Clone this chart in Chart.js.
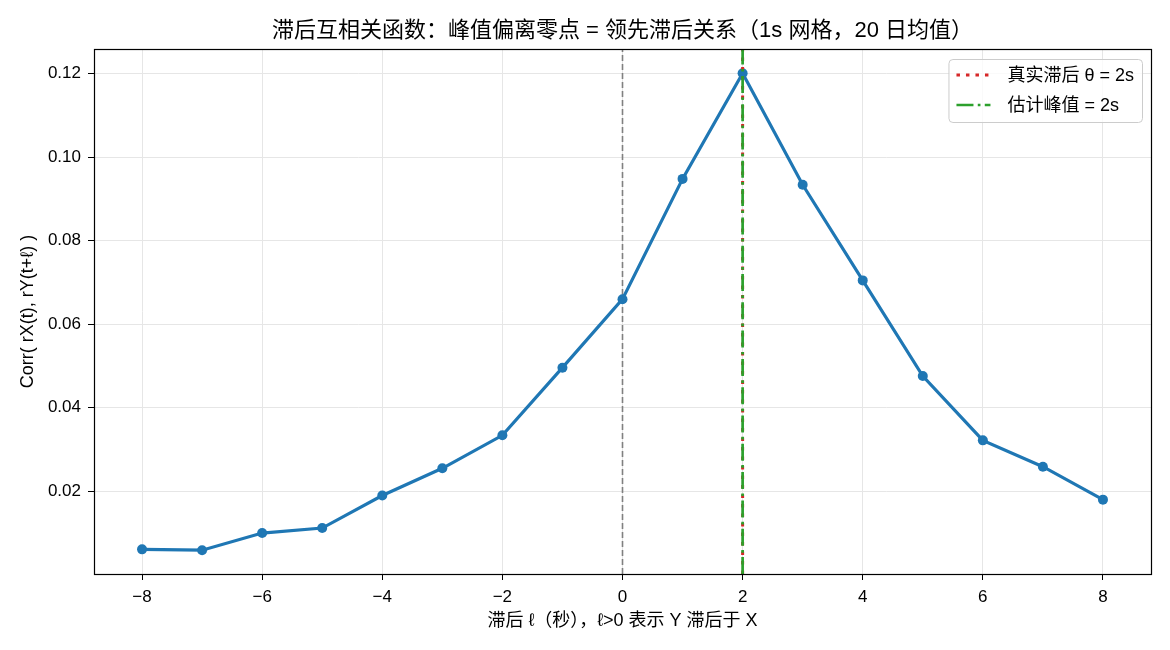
<!DOCTYPE html>
<html>
<head>
<meta charset="utf-8">
<title>滞后互相关函数</title>
<script src="https://cdn.jsdelivr.net/npm/chart.js@4.4.1/dist/chart.umd.min.js"></script>
<style>
  html, body { margin: 0; padding: 0; background: #fff; }
  #wrap { width: 1170px; height: 650px; position: relative; }
</style>
</head>
<body>
<div id="wrap"><canvas id="ccfChart"></canvas></div>
<script>
// Data
const lags = [-8, -7, -6, -5, -4, -3, -2, -1, 0, 1, 2, 3, 4, 5, 6, 7, 8];
const corrValues = [0.0061, 0.0059, 0.0100, 0.0112, 0.0190, 0.0255, 0.0334, 0.0496, 0.0660,
  0.0948, 0.1201, 0.0934, 0.0705, 0.0476, 0.0322, 0.0259, 0.0180];
const xTicks = [-8, -6, -4, -2, 0, 2, 4, 6, 8];
const yTicks = [0.02, 0.04, 0.06, 0.08, 0.10, 0.12];
const xLimits = [-8.8, 8.8];
const yLimits = [0.0002, 0.1259];
const zeroLag = 0;
const trueLag = 2;
const estimatedPeak = 2;

const titleText = "滞后互相关函数：峰值偏离零点 = 领先滞后关系（1s 网格，20 日均值）";
const xLabel = "滞后 ℓ（秒），ℓ>0 表示 Y 滞后于 X";
const yLabel = "Corr( rX(t), rY(t+ℓ) )";
const legendLabels = ["真实滞后 θ = 2s", "估计峰值 = 2s"];

const FONT = "'Liberation Sans', 'Noto Sans CJK SC', sans-serif";

const RED_DASH = [3.5, 6];
const GREEN_DASH = [17, 4.3, 2.7, 4.3];

// vertical line as two points spanning the y range
function vline(x) {
  return [{ x: x, y: yLimits[0] }, { x: x, y: yLimits[1] }];
}

// title centred over the plot area, like matplotlib does
const titlePlugin = {
  id: "axesTitle",
  afterDraw(chart) {
    const { ctx, chartArea: a } = chart;
    ctx.save();
    ctx.font = "22px " + FONT;
    ctx.fillStyle = "#000";
    ctx.textAlign = "center";
    ctx.textBaseline = "middle";
    ctx.fillText(titleText, (a.left + a.right) / 2, 31);
    ctx.restore();
  },
};

// frame around the plot area (matplotlib style spines)
const framePlugin = {
  id: "frame",
  afterDraw(chart) {
    const { ctx, chartArea: a } = chart;
    ctx.save();
    ctx.strokeStyle = "#000";
    ctx.lineWidth = 1.2;
    ctx.strokeRect(a.left + 0.5, a.top + 0.5, a.right - a.left, a.bottom - a.top);
    ctx.restore();
  },
};

// legend box in the upper right of the plot
const legendPlugin = {
  id: "boxLegend",
  afterDraw(chart) {
    const { ctx, chartArea: a } = chart;
    const items = [
      { label: legendLabels[0], color: "#d62728", dash: RED_DASH, width: 3 },
      { label: legendLabels[1], color: "#2ca02c", dash: GREEN_DASH, width: 2.7 },
    ];
    ctx.save();
    ctx.font = "18px " + FONT;
    const textW = Math.max(...items.map((it) => ctx.measureText(it.label).width));
    const w = 59 + textW + 8;
    const h = 63;
    const x = a.right - 9 - w;
    const y = a.top + 10;
    ctx.beginPath();
    ctx.roundRect(x + 0.5, y + 0.5, w, h, 4);
    ctx.fillStyle = "rgba(255,255,255,0.8)";
    ctx.fill();
    ctx.strokeStyle = "#cccccc";
    ctx.lineWidth = 1;
    ctx.stroke();
    items.forEach((it, i) => {
      const cy = y + 16 + i * 30;
      ctx.beginPath();
      ctx.setLineDash(it.dash);
      ctx.strokeStyle = it.color;
      ctx.lineWidth = it.width;
      ctx.moveTo(x + 8, cy);
      ctx.lineTo(x + 42, cy);
      ctx.stroke();
      ctx.setLineDash([]);
      ctx.fillStyle = "#000";
      ctx.textBaseline = "middle";
      ctx.fillText(it.label, x + 59, cy + 1);
    });
    ctx.restore();
  },
};

const ctx = document.getElementById("ccfChart").getContext("2d");
const ccfChart = new Chart(ctx, {
  type: "scatter",
  data: {
    datasets: [
      {
        label: legendLabels[1],
        data: vline(estimatedPeak),
        showLine: true,
        borderColor: "#2ca02c",
        borderWidth: 2.7,
        borderDash: GREEN_DASH,
        pointRadius: 0,
        order: 0,
      },
      {
        label: legendLabels[0],
        data: vline(trueLag),
        showLine: true,
        borderColor: "#d62728",
        borderWidth: 3,
        borderDash: RED_DASH,
        pointRadius: 0,
        order: 1,
      },
      {
        label: "CCF",
        data: lags.map((l, i) => ({ x: l, y: corrValues[i] })),
        showLine: true,
        borderColor: "#1f77b4",
        backgroundColor: "#1f77b4",
        borderWidth: 3.2,
        pointRadius: 5,
        pointBorderWidth: 0,
        order: 2,
      },
      {
        label: "zero",
        data: vline(zeroLag),
        showLine: true,
        borderColor: "#808080",
        borderWidth: 1.6,
        borderDash: [6, 3],
        pointRadius: 0,
        order: 3,
      },
    ],
  },
  options: {
    responsive: true,
    maintainAspectRatio: false,
    animation: false,
    layout: { padding: { left: 0, right: 19, top: 49, bottom: 0 } },
    plugins: {
      legend: { display: false },
      tooltip: { enabled: false },
      title: { display: false },
    },
    scales: {
      x: {
        type: "linear",
        min: xLimits[0],
        max: xLimits[1],
        afterBuildTicks: (axis) => {
          axis.ticks = xTicks.map((v) => ({ value: v }));
        },
        afterFit: (axis) => {
          axis.height = 76;
        },
        ticks: {
          color: "#000",
          font: { family: FONT, size: 17 },
          padding: 7,
          maxRotation: 0,
          callback: (v) => (v < 0 ? "\u2212" + Math.abs(v) : String(v)),
        },
        grid: { color: "#e6e6e6", tickColor: "#000", tickLength: 6, lineWidth: 1 },
        border: { display: false },
        title: {
          display: true,
          text: xLabel,
          color: "#000",
          font: { family: FONT, size: 18 },
          padding: { top: 4, bottom: 18 },
        },
      },
      y: {
        type: "linear",
        min: yLimits[0],
        max: yLimits[1],
        afterBuildTicks: (axis) => {
          axis.ticks = yTicks.map((v) => ({ value: v }));
        },
        afterFit: (axis) => {
          axis.width = 94;
        },
        ticks: {
          color: "#000",
          font: { family: FONT, size: 17 },
          padding: 7,
          callback: (v) => v.toFixed(2),
        },
        grid: { color: "#e6e6e6", tickColor: "#000", tickLength: 6, lineWidth: 1 },
        border: { display: false },
        title: {
          display: true,
          text: yLabel,
          color: "#000",
          font: { family: FONT, size: 18 },
          padding: { top: 17, bottom: 4 },
        },
      },
    },
  },
  plugins: [framePlugin, legendPlugin, titlePlugin],
});
</script>
</body>
</html>
